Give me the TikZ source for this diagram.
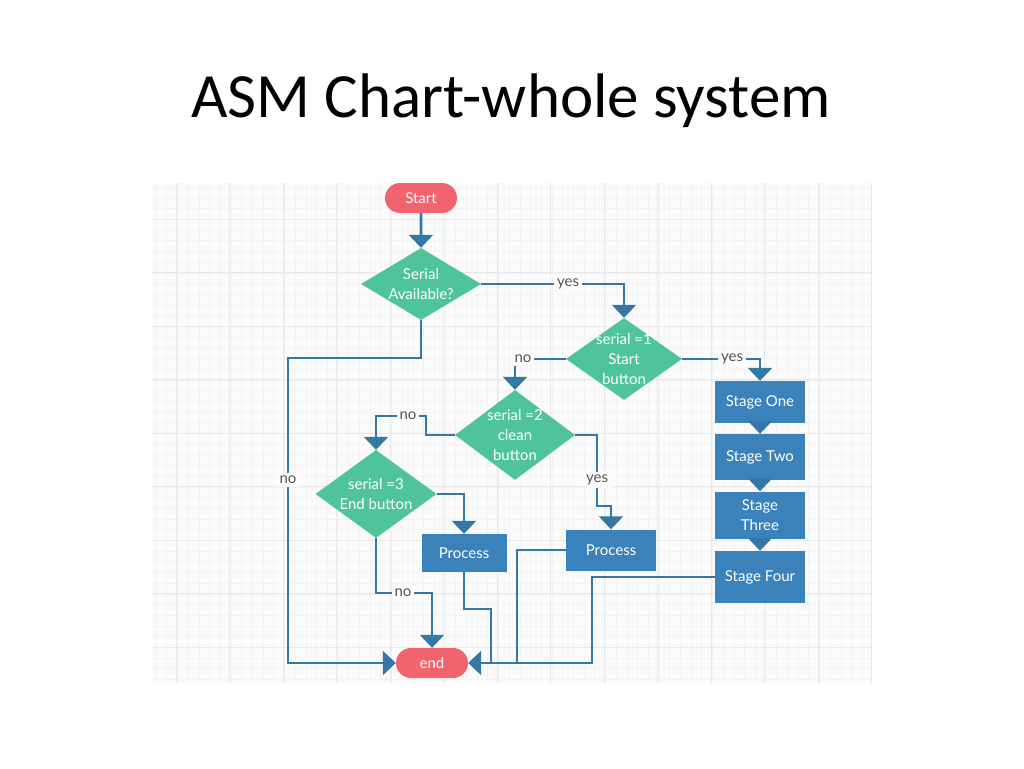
\documentclass[tikz,border=0pt]{standalone}
\usepackage{fontspec}
\setmainfont{Lato}
\newfontfamily\titlefont{Carlito}
\usetikzlibrary{shapes.geometric,shapes.misc,arrows.meta}
\definecolor{linec}{HTML}{3578A6}
\definecolor{boxc}{HTML}{3A82B9}
\definecolor{diac}{HTML}{4FC49A}
\definecolor{pillc}{HTML}{F1636D}
\definecolor{bgc}{HTML}{FBFBFB}
\definecolor{minorc}{HTML}{F3F3F3}
\definecolor{majorc}{HTML}{E8E8E8}
\definecolor{lblc}{HTML}{555555}
\tikzset{
  pill/.style={rounded rectangle, fill=pillc, text=white, minimum width=72pt, minimum height=30pt, inner sep=0pt, font=\fontsize{15}{18}\selectfont},
  dia/.style={diamond, fill=diac, inner sep=0pt},
  diatext/.style={text=white, inner sep=0pt, align=center, font=\fontsize{15}{20}\selectfont},
  procbox/.style={rectangle, fill=boxc, text=white, inner sep=0pt, align=center, font=\fontsize{15}{20}\selectfont},
  conn/.style={draw=linec, line width=2.6pt, line join=miter},
  arr/.style={conn, -{Triangle[width=24pt,length=13pt]}},
  lbl/.style={fill=bgc, text=lblc, inner sep=3pt, font=\fontsize{15}{17}\selectfont}
}
\begin{document}
\begin{tikzpicture}[x=1pt,y=-1pt]
\useasboundingbox (0,0) rectangle (1024,768);
\fill[white] (0,0) rectangle (1024,768);
% title
\node[font=\titlefont\fontsize{63}{66}\selectfont] (title) at (511,101) {ASM Chart-whole system};
% grid background
\fill[bgc] (152,183) rectangle (872,683);
\begin{scope}
\clip (152,183) rectangle (872,683);
\foreach \i in {0,...,70} {
  \draw[minorc, line width=0.6pt] (\i*10.7+134.6,183) -- (\i*10.7+134.6,683);
  \draw[minorc, line width=0.6pt] (152,\i*10.7+176.5) -- (872,\i*10.7+176.5);
}
\foreach \i in {0,...,14} {
  \draw[majorc, line width=0.9pt] (\i*53.5+176,183) -- (\i*53.5+176,683);
  \draw[majorc, line width=0.9pt] (152,\i*53.5+219) -- (872,\i*53.5+219);
}
\end{scope}
% nodes
\node[pill] (start) at (421,198) {Start};
\node[dia, minimum width=120pt, minimum height=72pt] (d1) at (421,284) {};
\node[diatext] (t1) at (d1) {Serial\\Available?};
\node[dia, minimum width=116pt, minimum height=82pt] (d2) at (624,359) {};
\node[diatext] (t2) at (d2) {serial =1\\Start\\button};
\node[dia, minimum width=120pt, minimum height=90pt] (d3) at (515,435) {};
\node[diatext] (t3) at (d3) {serial =2\\clean\\button};
\node[dia, minimum width=121pt, minimum height=88pt] (d4) at (376,494) {};
\node[diatext] (t4) at (d4) {serial =3\\End button};
\node[procbox, minimum width=90pt, minimum height=42pt] (s1) at (760,402) {Stage One};
\node[procbox, minimum width=90pt, minimum height=46pt] (s2) at (760,457) {Stage Two};
\node[procbox, minimum width=90pt, minimum height=47pt] (s3) at (760,515) {Stage\\Three};
\node[procbox, minimum width=90pt, minimum height=52pt] (s4) at (760,577) {Stage Four};
\node[procbox, minimum width=85pt, minimum height=38pt] (p1) at (464,553) {Process};
\node[procbox, minimum width=90pt, minimum height=41pt] (p2) at (611,550) {Process};
\node[pill] (end) at (432,663) {end};
% junction coordinates
\coordinate (j1) at (421,358);
\coordinate (j2) at (288,663);
\coordinate (j3) at (426,416);
\coordinate (j4) at (597,506);
\coordinate (j5) at (376,593);
\coordinate (j6) at (464,609);
\coordinate (j7) at (491,663);
\coordinate (j8) at (517,663);
\coordinate (j9) at (592,663);
% connectors
\draw[arr] (start) -- (d1.north);
\draw[arr] (d1.east) -| (d2.north);
\draw[arr] (d2.east) -| (s1.north);
\draw[arr] (d2.west) -| (d3.north);
\draw[arr] (s1) -- (s2);
\draw[arr] (s2) -- (s3);
\draw[arr] (s3) -- (s4);
\draw[arr] (d3.west) -| (j3) -| (d4.north);
\draw[arr] (d3.east) -| (j4) -| (p2.north);
\draw[arr] (d4.east) -| (p1.north);
\draw[arr] (d4.south) |- (j5) -| (end.north);
\draw[arr] (d1.south) -- (j1) -| (j2) -- (end.west);
\draw[conn] (p1.south) -- (j6) -| (j7);
\draw[conn] (p2.west) -| (j8);
\draw[arr] (s4.west) -| (j9) -- (end.east);
% labels
\node[lbl] (l1) at (568,284) {yes};
\node[lbl] (l2) at (732,359) {yes};
\node[lbl] (l3) at (523,359) {no};
\node[lbl] (l4) at (408,416) {no};
\node[lbl] (l5) at (597,480) {yes};
\node[lbl] (l6) at (288,480) {no};
\node[lbl] (l7) at (403,593) {no};
\end{tikzpicture}
\end{document}
